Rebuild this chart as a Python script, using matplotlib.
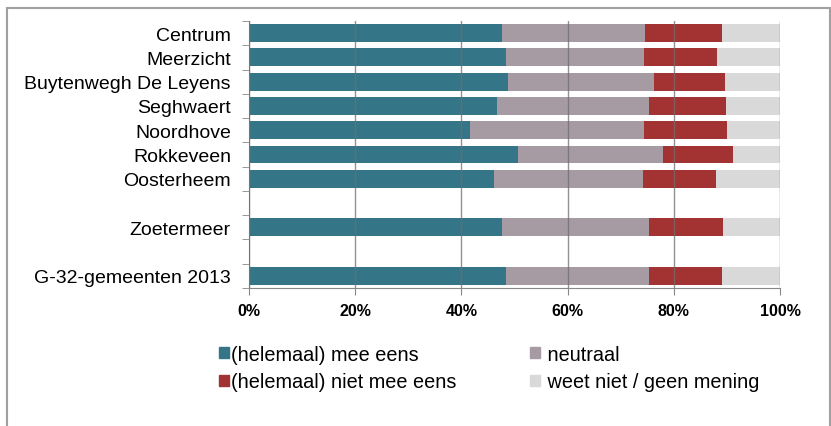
import numpy as np
import matplotlib.pyplot as plt
from matplotlib.patches import Patch, Rectangle

plt.rcParams['font.family'] = ['Liberation Sans', 'DejaVu Sans']

# Data (percentages)
categorieen = ['Centrum', 'Meerzicht', 'Buytenwegh De Leyens', 'Seghwaert', 'Noordhove',
               'Rokkeveen', 'Oosterheem', 'Zoetermeer', 'G-32-gemeenten 2013']
posities = [0, 1, 2, 3, 4, 5, 6, 8, 10]

mee_eens = [47.7, 48.4, 48.8, 46.7, 41.7, 50.6, 46.1, 47.6, 48.4]
neutraal = [26.9, 25.9, 27.5, 28.7, 32.7, 27.3, 28.1, 27.8, 26.9]
niet_eens = [14.4, 13.9, 13.3, 14.5, 15.6, 13.3, 13.7, 13.9, 13.8]
weet_niet = [11.0, 11.8, 10.4, 10.1, 10.0, 8.8, 12.1, 10.7, 10.9]

reeksen = [mee_eens, neutraal, niet_eens, weet_niet]
namen = ['(helemaal) mee eens', 'neutraal', '(helemaal) niet mee eens', 'weet niet / geen mening']
kleuren = ['#347687', '#A79BA3', '#A33333', '#D9D9D9']

fig = plt.figure(figsize=(8.31, 4.27), dpi=100)
# grijze rand om de grafiek
fig.add_artist(Rectangle((7 / 831, -0.1), 823 / 831, 1.1 - 9 / 427, transform=fig.transFigure,
                         fill=False, edgecolor='#A0A0A0', linewidth=1.5))
ax = fig.add_axes([0.2996, 0.3232, 0.6390, 0.6253])

links = np.zeros(len(categorieen))
for waarden, kleur in zip(reeksen, kleuren):
    ax.barh(posities, waarden, left=links, height=0.74, color=kleur, zorder=2)
    links = links + np.array(waarden)

ax.set_xlim(0, 100)
ax.set_ylim(10.5, -0.5)
ax.set_xticks([0, 20, 40, 60, 80, 100])
ax.set_xticklabels(['0%', '20%', '40%', '60%', '80%', '100%'], fontsize=11.5, fontweight='bold')
ax.set_yticks(posities)
ax.set_yticklabels(categorieen, fontsize=14)
ax.set_yticks(np.arange(-0.5, 11, 1), minor=True)
ax.tick_params(axis='y', which='major', length=0, pad=13)
ax.tick_params(axis='y', which='minor', length=5, color='#888888')
ax.tick_params(axis='x', length=5, color='#888888', pad=6)

ax.grid(axis='x', color='#6E6E6E', linewidth=1, alpha=0.75, zorder=3)
ax.set_axisbelow(False)
for s in ['top', 'right']:
    ax.spines[s].set_visible(False)
for s in ['left', 'bottom']:
    ax.spines[s].set_color('#888888')

handles = [Patch(color=kleuren[0]), Patch(color=kleuren[2]), Patch(color=kleuren[1]), Patch(color=kleuren[3])]
labels = [namen[0], namen[2], ' ' + namen[1], ' ' + namen[3]]
fig.legend(handles, labels, loc='center left', bbox_to_anchor=(209 / 831, 1 - 369 / 427), ncol=2,
           frameon=False, borderpad=0, fontsize=14.3, handlelength=0.5, handleheight=0.5,
           handletextpad=0.12, columnspacing=3.7, labelspacing=0.45)

plt.savefig('out.png', dpi=100)
